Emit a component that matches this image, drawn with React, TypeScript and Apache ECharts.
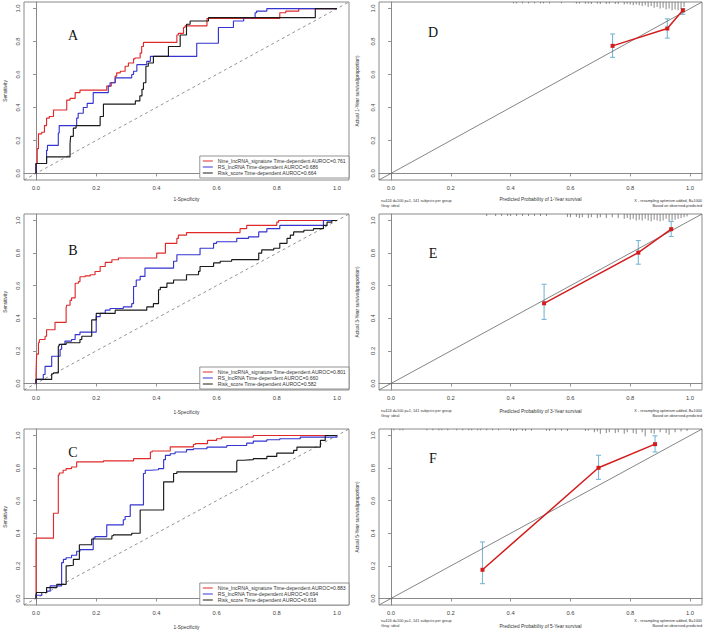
import React, { useEffect, useRef } from "react";
import * as echarts from "echarts";

const FONT = "'Liberation Sans', Arial, sans-serif";
const TICKS = [0, 0.2, 0.4, 0.6, 0.8, 1.0];

const RED = "#e02a2a";
const BLUE = "#3535d0";
const BLACK = "#1a1a1a";
const ERR = "#7ab6d6";

// ---------- ROC curves (1-Specificity, Sensitivity) ----------
const rocA_nine = [[0,0],[0.004,0.06],[0.008,0.15],[0.019,0.24],[0.028,0.25],[0.035,0.29],[0.044,0.335],[0.058,0.345],[0.063,0.385],[0.102,0.385],[0.113,0.445],[0.13,0.455],[0.146,0.49],[0.163,0.505],[0.235,0.505],[0.25,0.53],[0.263,0.55],[0.268,0.59],[0.28,0.61],[0.296,0.62],[0.307,0.65],[0.324,0.67],[0.329,0.695],[0.346,0.70],[0.351,0.73],[0.357,0.77],[0.362,0.795],[0.468,0.795],[0.473,0.84],[0.49,0.85],[0.495,0.885],[0.568,0.895],[0.573,0.94],[0.81,0.94],[0.83,0.975],[0.873,0.985],[0.884,1],[1,1]];
const rocA_rs = [[0,0],[0.002,0.06],[0.035,0.06],[0.038,0.14],[0.047,0.17],[0.074,0.17],[0.077,0.245],[0.10,0.29],[0.135,0.29],[0.14,0.335],[0.157,0.365],[0.17,0.40],[0.19,0.425],[0.2,0.49],[0.24,0.49],[0.246,0.53],[0.263,0.55],[0.274,0.58],[0.318,0.58],[0.324,0.60],[0.335,0.62],[0.346,0.66],[0.368,0.66],[0.38,0.68],[0.396,0.71],[0.534,0.71],[0.545,0.79],[0.606,0.79],[0.612,0.885],[0.656,0.885],[0.667,0.925],[0.69,0.925],[0.728,0.945],[0.733,0.975],[0.767,0.985],[0.773,1],[1,1]];
const rocA_risk = [[0,0],[0.004,0.06],[0.035,0.06],[0.041,0.10],[0.113,0.10],[0.115,0.18],[0.124,0.225],[0.133,0.275],[0.168,0.29],[0.213,0.29],[0.224,0.345],[0.235,0.42],[0.33,0.42],[0.345,0.44],[0.352,0.47],[0.357,0.51],[0.365,0.55],[0.373,0.65],[0.39,0.67],[0.40,0.71],[0.44,0.71],[0.442,0.77],[0.479,0.77],[0.50,0.84],[0.512,0.905],[0.534,0.925],[0.573,0.925],[0.575,0.945],[0.928,0.945],[0.945,1],[1,1]];

const rocB_nine = [[0,0],[0.002,0.065],[0.008,0.18],[0.011,0.25],[0.013,0.265],[0.03,0.27],[0.035,0.29],[0.041,0.33],[0.063,0.33],[0.074,0.375],[0.10,0.375],[0.102,0.465],[0.113,0.48],[0.118,0.51],[0.13,0.525],[0.141,0.615],[0.146,0.625],[0.163,0.655],[0.18,0.66],[0.196,0.667],[0.213,0.687],[0.23,0.718],[0.252,0.743],[0.274,0.759],[0.29,0.77],[0.401,0.77],[0.407,0.80],[0.43,0.80],[0.435,0.86],[0.468,0.86],[0.473,0.89],[0.50,0.91],[0.506,0.926],[0.678,0.926],[0.70,0.95],[0.717,0.97],[0.80,0.97],[0.806,0.99],[0.878,1],[1,1]];
const rocB_rs = [[0,0],[0.008,0.025],[0.024,0.025],[0.03,0.055],[0.035,0.105],[0.052,0.105],[0.058,0.167],[0.08,0.167],[0.085,0.21],[0.096,0.24],[0.118,0.26],[0.13,0.27],[0.146,0.30],[0.157,0.315],[0.2,0.315],[0.213,0.41],[0.23,0.43],[0.246,0.45],[0.29,0.46],[0.318,0.47],[0.324,0.49],[0.333,0.595],[0.346,0.635],[0.362,0.657],[0.38,0.708],[0.457,0.708],[0.468,0.75],[0.479,0.79],[0.545,0.79],[0.59,0.83],[0.6,0.86],[0.667,0.87],[0.706,0.89],[0.74,0.90],[0.767,0.93],[0.81,0.95],[0.845,0.97],[0.955,0.97],[0.972,1],[1,1]];
const rocB_risk = [[0,0],[0.004,0.025],[0.052,0.025],[0.058,0.06],[0.074,0.065],[0.077,0.23],[0.10,0.24],[0.118,0.25],[0.146,0.25],[0.152,0.27],[0.168,0.29],[0.185,0.29],[0.188,0.39],[0.2,0.39],[0.218,0.43],[0.263,0.43],[0.268,0.45],[0.368,0.45],[0.39,0.47],[0.407,0.49],[0.413,0.575],[0.435,0.59],[0.457,0.616],[0.50,0.635],[0.54,0.667],[0.545,0.688],[0.56,0.718],[0.59,0.718],[0.612,0.74],[0.65,0.75],[0.74,0.76],[0.75,0.80],[0.79,0.82],[0.81,0.83],[0.834,0.86],[0.845,0.89],[0.856,0.91],[0.89,0.93],[0.922,0.94],[0.955,0.95],[0.967,0.97],[0.983,0.99],[1,1]];

const rocC_nine = [[0,0],[0.002,0.37],[0.058,0.37],[0.06,0.523],[0.074,0.523],[0.077,0.757],[0.09,0.77],[0.10,0.787],[0.118,0.797],[0.135,0.807],[0.141,0.838],[0.224,0.838],[0.324,0.844],[0.335,0.858],[0.38,0.858],[0.386,0.899],[0.446,0.905],[0.457,0.93],[0.523,0.93],[0.529,0.945],[0.57,0.95],[0.60,0.97],[0.617,0.98],[0.722,0.99],[0.822,1],[1,1]];
const rocC_rs = [[0,0],[0.019,0.02],[0.035,0.037],[0.047,0.045],[0.052,0.077],[0.085,0.077],[0.091,0.22],[0.10,0.24],[0.118,0.25],[0.135,0.265],[0.146,0.29],[0.163,0.30],[0.19,0.30],[0.196,0.37],[0.235,0.38],[0.237,0.452],[0.29,0.452],[0.296,0.483],[0.313,0.503],[0.318,0.574],[0.357,0.574],[0.363,0.767],[0.38,0.787],[0.407,0.79],[0.424,0.797],[0.43,0.852],[0.446,0.878],[0.462,0.888],[0.50,0.899],[0.523,0.913],[0.568,0.919],[0.634,0.929],[0.70,0.939],[0.722,0.953],[0.767,0.966],[0.81,0.974],[0.878,0.98],[1,0.99],[1,1]];
const rocC_risk = [[0,0],[0.002,0.02],[0.035,0.037],[0.038,0.067],[0.069,0.067],[0.074,0.087],[0.10,0.087],[0.105,0.2],[0.124,0.204],[0.126,0.24],[0.144,0.24],[0.146,0.33],[0.185,0.33],[0.19,0.365],[0.252,0.365],[0.257,0.385],[0.318,0.39],[0.346,0.40],[0.355,0.543],[0.424,0.543],[0.426,0.716],[0.457,0.716],[0.468,0.767],[0.479,0.777],[0.667,0.777],[0.669,0.838],[0.69,0.848],[0.722,0.852],[0.767,0.858],[0.80,0.872],[0.856,0.892],[0.867,0.909],[0.945,0.929],[0.961,0.97],[0.964,1],[1,1]];

const namesA = ["Nine_lncRNA_signature Time-dependent AUROC=0.761", "RS_lncRNA Time-dependent AUROC=0.686", "Risk_score Time-dependent AUROC=0.664"];
const namesB = ["Nine_lncRNA_signature Time-dependent AUROC=0.801", "RS_lncRNA Time-dependent AUROC=0.660", "Risk_score Time-dependent AUROC=0.582"];
const namesC = ["Nine_lncRNA_signature Time-dependent AUROC=0.883", "RS_lncRNA Time-dependent AUROC=0.694", "Risk_score Time-dependent AUROC=0.616"];

// ---------- Calibration (predicted, observed) + error bars (lo, hi) ----------
const calD = [[0.741,0.774],[0.924,0.879],[0.976,0.99]];
const errD = [[0.704,0.846],[0.821,0.938],[0.965,1.0]];
const calE = [[0.512,0.492],[0.827,0.803],[0.937,0.947]];
const errE = [[0.393,0.609],[0.732,0.877],[0.902,0.994]];
const calF = [[0.306,0.176],[0.694,0.802],[0.883,0.947]];
const errF = [[0.091,0.347],[0.731,0.879],[0.899,0.998]];

// rug of predicted risks (position, relative height)
const rugDx = [0.41,0.42,0.44,0.46,0.48,0.50,0.51,0.53,0.57,0.62,0.63,0.65,0.66,0.67,0.69,0.70,0.72,0.73,0.75,0.76,0.78,0.79,0.80,0.81,0.82,0.83,0.84,0.85,0.86,0.87,0.88,0.89,0.90,0.91,0.92,0.93,0.94,0.95,0.96,0.97,0.98];
const rugDh = [0.008,0.008,0.008,0.008,0.008,0.008,0.008,0.008,0.008,0.01,0.01,0.01,0.01,0.012,0.01,0.012,0.012,0.01,0.012,0.012,0.015,0.012,0.015,0.02,0.015,0.02,0.025,0.02,0.03,0.025,0.035,0.03,0.04,0.035,0.045,0.04,0.05,0.045,0.05,0.04,0.03];
const rugEx = [0.32,0.35,0.37,0.39,0.40,0.42,0.44,0.46,0.48,0.50,0.52,0.59,0.60,0.62,0.63,0.64,0.66,0.67,0.69,0.70,0.72,0.74,0.76,0.78,0.79,0.80,0.81,0.82,0.83,0.84,0.85,0.86,0.87,0.88,0.89,0.90,0.91,0.92,0.93,0.94,0.95,0.96,0.97,0.98,0.99];
const rugEh = [0.012,0.012,0.012,0.012,0.012,0.012,0.012,0.012,0.012,0.012,0.012,0.018,0.02,0.018,0.025,0.02,0.025,0.02,0.025,0.02,0.025,0.02,0.025,0.03,0.025,0.035,0.03,0.04,0.035,0.04,0.03,0.04,0.045,0.035,0.04,0.045,0.04,0.03,0.045,0.04,0.035,0.03,0.025,0.02,0.015];
const rugFx = [0.01,0.03,0.04,0.12,0.14,0.16,0.17,0.19,0.22,0.24,0.26,0.27,0.29,0.30,0.32,0.34,0.36,0.40,0.41,0.42,0.44,0.45,0.47,0.52,0.53,0.55,0.57,0.59,0.65,0.66,0.68,0.69,0.70,0.72,0.73,0.75,0.76,0.78,0.79,0.81,0.82,0.84,0.85,0.87,0.88,0.90,0.92,0.93,0.95,0.97,0.99];
const rugFh = [0.008,0.008,0.008,0.008,0.008,0.008,0.008,0.008,0.008,0.008,0.008,0.008,0.008,0.008,0.008,0.008,0.008,0.01,0.012,0.01,0.01,0.012,0.01,0.01,0.012,0.01,0.01,0.012,0.012,0.01,0.02,0.015,0.03,0.025,0.02,0.025,0.02,0.03,0.02,0.025,0.03,0.02,0.045,0.025,0.03,0.02,0.025,0.035,0.02,0.015,0.012];

const calTitles = ["1-Year", "3-Year", "5-Year"];

// ---------- layout ----------
const grids = [
  { left: 24, top: 2, width: 325, height: 178 },   // A
  { left: 379, top: 2, width: 323, height: 178 },  // D
  { left: 24, top: 214, width: 325, height: 176 }, // B
  { left: 379, top: 214, width: 323, height: 176 },// E
  { left: 24, top: 429, width: 325, height: 176 }, // C
  { left: 379, top: 429, width: 323, height: 176 } // F
];
const xNameGaps = [17, 16.6, 19.6, 19.3, 19.6, 19.3];

function buildOption() {
  const fmt = (v: number) => v.toFixed(1);
  const xAxis: any[] = [];
  const yAxis: any[] = [];
  grids.forEach((g, i) => {
    const isRoc = i % 2 === 0;
    const row = Math.floor(i / 2);
    const common = {
      gridIndex: i,
      type: "value",
      min: -0.04,
      max: 1.04,
      splitLine: { show: false },
      axisLine: { show: true, lineStyle: { color: "#8a8a8a", width: 1 } },
      axisTick: { show: true, length: 3, customValues: TICKS, lineStyle: { color: "#777", width: 0.8 } },
      nameLocation: "middle",
      nameTextStyle: { fontSize: 4.8, color: "#333", fontFamily: FONT },
    };
    xAxis.push({
      ...common,
      name: isRoc ? "1-Specificity" : `Predicted Probability of ${calTitles[row]} survival`,
      nameGap: xNameGaps[i],
      axisLabel: { customValues: TICKS, formatter: fmt, fontSize: 5.8, color: "#444", margin: 5, fontFamily: FONT },
    });
    yAxis.push({
      ...common,
      name: isRoc ? "Sensitivity" : `Actual ${calTitles[row]} survival(proportion)`,
      nameGap: isRoc ? 16.5 : 19.5,
      axisLabel: { customValues: TICKS, formatter: fmt, fontSize: 5.8, color: "#444", margin: 3, rotate: 90, fontFamily: FONT },
    });
  });

  const series: any[] = [];
  const rocSets = [
    { idx: 0, names: namesA, data: [rocA_nine, rocA_rs, rocA_risk] },
    { idx: 2, names: namesB, data: [rocB_nine, rocB_rs, rocB_risk] },
    { idx: 4, names: namesC, data: [rocC_nine, rocC_rs, rocC_risk] },
  ];
  const rocColors = [RED, BLUE, BLACK];
  rocSets.forEach((s) => {
    series.push({
      type: "line", xAxisIndex: s.idx, yAxisIndex: s.idx, silent: true,
      data: [[-0.04, -0.04], [1.04, 1.04]], symbol: "none",
      lineStyle: { color: "#777", width: 0.8, type: [3, 3] },
    });
    s.data.forEach((d, k) => {
      series.push({
        type: "line", name: s.names[k], xAxisIndex: s.idx, yAxisIndex: s.idx,
        data: d, symbol: "none", showSymbol: false, step: "start",
        lineStyle: { color: rocColors[k], width: 1.15 }, itemStyle: { color: rocColors[k] },
      });
    });
  });

  const calSets = [
    { idx: 1, cal: calD, err: errD, rx: rugDx, rh: rugDh },
    { idx: 3, cal: calE, err: errE, rx: rugEx, rh: rugEh },
    { idx: 5, cal: calF, err: errF, rx: rugFx, rh: rugFh },
  ];
  calSets.forEach((s) => {
    series.push({
      type: "line", xAxisIndex: s.idx, yAxisIndex: s.idx, silent: true,
      data: [[-0.04, -0.04], [1.04, 1.04]], symbol: "none",
      lineStyle: { color: "#666", width: 0.8 },
    });
    series.push({
      type: "custom", xAxisIndex: s.idx, yAxisIndex: s.idx, silent: true,
      data: s.rx.map((x, i) => [x, s.rh[i]]),
      renderItem: (_p: any, api: any) => {
        const x = api.value(0);
        const h = api.value(1);
        const p1 = api.coord([x, 1.04]);
        const p2 = api.coord([x, 1.04 - h]);
        return { type: "line", shape: { x1: p1[0], y1: p1[1], x2: p2[0], y2: p2[1] }, style: { stroke: "#555", lineWidth: 0.7 } };
      },
    });
    series.push({
      type: "custom", xAxisIndex: s.idx, yAxisIndex: s.idx, silent: true,
      data: s.cal.map((c, i) => [c[0], s.err[i][0], s.err[i][1]]),
      renderItem: (_p: any, api: any) => {
        const x = api.value(0);
        const lo = api.coord([x, api.value(1)]);
        const hi = api.coord([x, api.value(2)]);
        const st = { stroke: ERR, lineWidth: 1.1 };
        return {
          type: "group",
          children: [
            { type: "line", shape: { x1: lo[0], y1: lo[1], x2: hi[0], y2: hi[1] }, style: st },
            { type: "line", shape: { x1: lo[0] - 2.5, y1: lo[1], x2: lo[0] + 2.5, y2: lo[1] }, style: st },
            { type: "line", shape: { x1: hi[0] - 2.5, y1: hi[1], x2: hi[0] + 2.5, y2: hi[1] }, style: st },
          ],
        };
      },
    });
    series.push({
      type: "line", xAxisIndex: s.idx, yAxisIndex: s.idx, silent: true,
      data: s.cal, symbol: "rect", symbolSize: 4, showSymbol: true,
      lineStyle: { color: "#d41c1c", width: 1.5 }, itemStyle: { color: "#d41c1c" },
    });
  });

  const legendBase = {
    orient: "vertical", right: 356, icon: "rect", itemWidth: 10, itemHeight: 1, itemGap: 0, itemTextGap: 5,
    padding: [2, 3, 2, 3], borderColor: "#777", borderWidth: 0.8, backgroundColor: "#fff",
    textStyle: { fontSize: 5.1, color: "#333", fontFamily: FONT, lineHeight: 6 },
    selectedMode: false,
  };
  const legend = [
    { ...legendBase, data: namesA, top: 156 },
    { ...legendBase, data: namesB, top: 367 },
    { ...legendBase, data: namesC, top: 583 },
  ];

  const letters = [
    { t: "A", x: 73, y: 35 }, { t: "D", x: 433, y: 32 },
    { t: "B", x: 73, y: 250 }, { t: "E", x: 433, y: 253 },
    { t: "C", x: 73, y: 452 }, { t: "F", x: 433, y: 458 },
  ];
  const graphic: any[] = letters.map((l) => ({
    type: "text", x: l.x, y: l.y,
    style: { text: l.t, font: "14px 'Liberation Serif', 'Times New Roman', serif", fill: "#111", textAlign: "center", textVerticalAlign: "middle" },
  }));
  const footY = [200.7, 410.7, 620.7];
  footY.forEach((y) => {
    const fs = "3.8px " + FONT;
    graphic.push({ type: "text", x: 381, y, style: { text: "n=424 d=100 p=1, 141 subjects per group", font: fs, fill: "#333", textAlign: "left", textVerticalAlign: "middle" } });
    graphic.push({ type: "text", x: 381, y: y + 5, style: { text: "Gray: ideal", font: fs, fill: "#333", textAlign: "left", textVerticalAlign: "middle" } });
    graphic.push({ type: "text", x: 702, y, style: { text: "X - resampling optimism added, B=1000", font: fs, fill: "#333", textAlign: "right", textVerticalAlign: "middle" } });
    graphic.push({ type: "text", x: 702, y: y + 5, style: { text: "Based on observed-predicted", font: fs, fill: "#333", textAlign: "right", textVerticalAlign: "middle" } });
  });

  return {
    animation: false,
    backgroundColor: "#ffffff",
    textStyle: { fontFamily: FONT },
    grid: grids.map((g) => ({ ...g, show: true, borderColor: "#8a8a8a", borderWidth: 1, backgroundColor: "transparent", containLabel: false })),
    xAxis, yAxis, series, legend, graphic,
  };
}

export default function App() {
  const ref = useRef<HTMLDivElement>(null);
  useEffect(() => {
    if (!ref.current) return;
    const chart = echarts.init(ref.current, undefined, { renderer: "svg" });
    chart.setOption(buildOption() as any);
    return () => chart.dispose();
  }, []);
  return <div ref={ref} style={{ position: "absolute", left: 0, top: 0, width: 705, height: 637 }} />;
}
